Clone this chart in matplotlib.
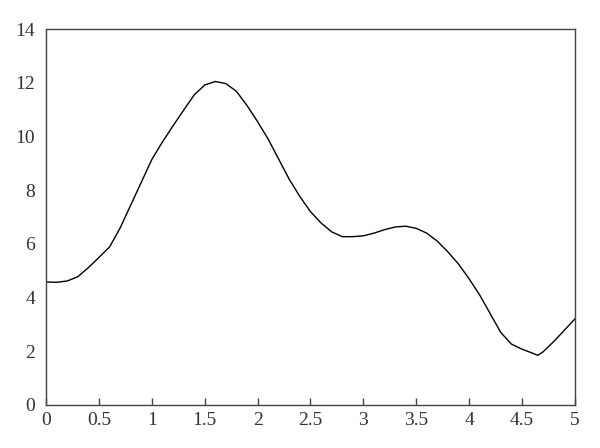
import matplotlib.pyplot as plt

# values
x = [0.0, 0.1, 0.2, 0.3, 0.4, 0.5, 0.6, 0.7, 0.8, 0.9,
     1.0, 1.1, 1.2, 1.3, 1.4, 1.5, 1.6, 1.7, 1.8, 1.9,
     2.0, 2.1, 2.2, 2.3, 2.4, 2.5, 2.6, 2.7, 2.8, 2.9,
     3.0, 3.1, 3.2, 3.3, 3.4, 3.5, 3.6, 3.7, 3.8, 3.9,
     4.0, 4.1, 4.2, 4.3, 4.4, 4.5, 4.6, 4.65, 4.7, 4.8, 4.9, 5.0]
y = [4.58, 4.57, 4.62, 4.78, 5.12, 5.5, 5.89, 6.6, 7.45, 8.3,
     9.15, 9.8, 10.4, 10.98, 11.55, 11.92, 12.05, 11.97, 11.68, 11.15,
     10.55, 9.9, 9.15, 8.4, 7.76, 7.2, 6.78, 6.45, 6.27, 6.27,
     6.3, 6.4, 6.53, 6.63, 6.66, 6.58, 6.4, 6.1, 5.7, 5.25,
     4.7, 4.1, 3.4, 2.7, 2.27, 2.08, 1.93, 1.85, 1.98, 2.36, 2.78, 3.2]

xticks = [0, 0.5, 1, 1.5, 2, 2.5, 3, 3.5, 4, 4.5, 5]
xtick_labels = ['0', '0.5', '1', '1.5', '2', '2.5', '3', '3.5', '4', '4.5', '5']
yticks = [0, 2, 4, 6, 8, 10, 12, 14]

plt.rcParams['font.family'] = ['Liberation Serif', 'DejaVu Serif']

fig = plt.figure(figsize=(6, 4.48), dpi=100)
ax = fig.add_axes([0.077, 0.096, 0.881, 0.839])

ax.plot(x, y, color='black', linewidth=1.0)

ax.set_xlim(0, 5)
ax.set_ylim(0, 14)
ax.set_xticks(xticks)
ax.set_xticklabels(xtick_labels)
ax.set_yticks(yticks)

for s in ax.spines.values():
    s.set_color('#444444')
    s.set_linewidth(1.0)

ax.tick_params(axis='x', direction='in', length=5, width=1, color='#444444',
               labelsize=14, labelcolor='#333333', pad=5)
ax.tick_params(axis='y', length=0, labelsize=14, labelcolor='#333333', pad=8)

fig.savefig('out.png', dpi=100)
